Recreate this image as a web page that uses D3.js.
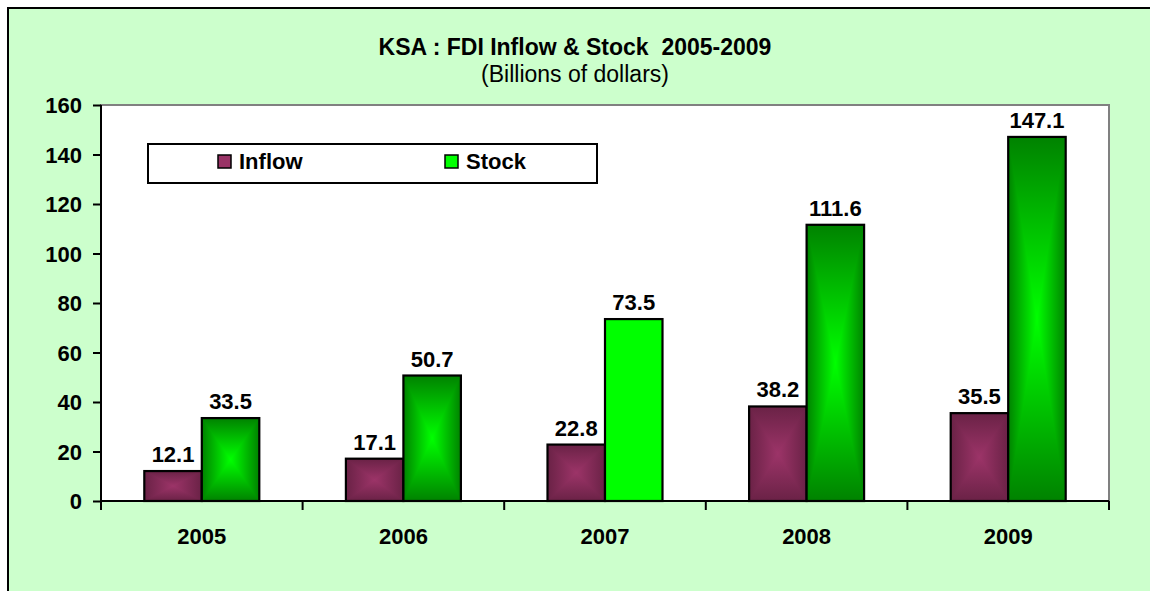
<!DOCTYPE html>
<html>
<head>
<meta charset="utf-8">
<script src="https://cdn.jsdelivr.net/npm/d3@7"></script>
<style>
  body { margin: 0; background: #ffffff; }
  text { font-family: "Liberation Sans", Arial, sans-serif; }
</style>
</head>
<body>
<div id="chart"></div>
<script>
// data
const years = ["2005", "2006", "2007", "2008", "2009"];
const seriesNames = ["Inflow", "Stock"];
const inflow = [12.1, 17.1, 22.8, 38.2, 35.5];
const stock = [33.5, 50.7, 73.5, 111.6, 147.1];
const yTicks = [0, 20, 40, 60, 80, 100, 120, 140, 160];

const W = 1150, H = 591;
const plot = {left: 101, right: 1109, top: 105, bottom: 501};

const svg = d3.select("#chart")
  .append("svg")
    .attr("width", W)
    .attr("height", H);

// outer chart area (border runs off the right and bottom)
svg.append("rect")
  .attr("x", 8).attr("y", 8)
  .attr("width", W + 20).attr("height", H + 20)
  .attr("fill", "#ccffcc")
  .attr("stroke", "#000").attr("stroke-width", 2);

// plot area
svg.append("rect")
  .attr("x", plot.left).attr("y", plot.top)
  .attr("width", plot.right - plot.left).attr("height", plot.bottom - plot.top)
  .attr("fill", "#fff")
  .attr("stroke", "#808080").attr("stroke-width", 2);

// gradients: dark at the edges, bright at the centre
const defs = svg.append("defs");
const shades = {
  Inflow: {edge: "#6a2246", mid: "#9c3468"},
  Stock: {edge: "#008200", mid: "#00ff00"}
};
const dirs = {
  h: {x1: 0, y1: 0, x2: 1, y2: 0, mirror: true},
  top: {x1: 0, y1: 0, x2: 0, y2: 1},
  bot: {x1: 0, y1: 1, x2: 0, y2: 0}
};
seriesNames.forEach(s => {
  Object.keys(dirs).forEach(k => {
    const d = dirs[k];
    const g = defs.append("linearGradient")
      .attr("id", "g-" + s + "-" + k)
      .attr("x1", d.x1).attr("y1", d.y1).attr("x2", d.x2).attr("y2", d.y2);
    if (d.mirror) {
      g.append("stop").attr("offset", 0).attr("stop-color", shades[s].edge);
      g.append("stop").attr("offset", 0.5).attr("stop-color", shades[s].mid);
      g.append("stop").attr("offset", 1).attr("stop-color", shades[s].edge);
    } else {
      g.append("stop").attr("offset", 0).attr("stop-color", shades[s].edge);
      g.append("stop").attr("offset", 1).attr("stop-color", shades[s].mid);
    }
  });
});

// scales
const x = d3.scaleBand()
  .domain(years)
  .range([plot.left, plot.right])
  .padding(0);

const barW = 57.5;
const x1 = d3.scaleBand()
  .domain(seriesNames)
  .range([x.bandwidth() / 2 - barW, x.bandwidth() / 2 + barW])
  .padding(0);

const y = d3.scaleLinear()
  .domain([0, 160])
  .range([plot.bottom, plot.top]);

// rows for the bars
const rows = [];
years.forEach((yr, i) => {
  rows.push({year: yr, series: "Inflow", value: inflow[i]});
  rows.push({year: yr, series: "Stock", value: stock[i]});
});

const bars = svg.append("g").selectAll("g.bar")
  .data(rows)
  .enter()
  .append("g")
    .attr("class", "bar");

bars.each(function(d) {
  const g = d3.select(this);
  const bx0 = x(d.year) + x1(d.series), bx1 = bx0 + x1.bandwidth();
  const by0 = y(d.value), by1 = y(0);
  const cx = (bx0 + bx1) / 2, cy = (by0 + by1) / 2;
  if (d.series === "Stock" && d.year === "2007") {
    // this one is a plain fill
    g.append("rect")
      .attr("x", bx0).attr("y", by0)
      .attr("width", bx1 - bx0).attr("height", by1 - by0)
      .attr("fill", "#00ff00");
  } else {
    g.append("rect")
      .attr("x", bx0).attr("y", by0)
      .attr("width", bx1 - bx0).attr("height", by1 - by0)
      .attr("fill", "url(#g-" + d.series + "-h)");
    g.append("path")
      .attr("d", `M${bx0},${by0}L${bx1},${by0}L${cx},${cy}Z`)
      .attr("fill", "url(#g-" + d.series + "-top)");
    g.append("path")
      .attr("d", `M${bx0},${by1}L${bx1},${by1}L${cx},${cy}Z`)
      .attr("fill", "url(#g-" + d.series + "-bot)");
  }
  g.append("rect")
    .attr("x", bx0).attr("y", by0)
    .attr("width", bx1 - bx0).attr("height", by1 - by0)
    .attr("fill", "none")
    .attr("stroke", "#000").attr("stroke-width", 2.2);
});

// value labels
svg.append("g").selectAll("text")
  .data(rows)
  .enter()
  .append("text")
    .attr("x", d => x(d.year) + x1(d.series) + x1.bandwidth() / 2)
    .attr("y", d => y(d.value) - 9)
    .attr("text-anchor", "middle")
    .style("font-size", "22px")
    .style("font-weight", "bold")
    .text(d => d.value.toFixed(1));

// Y axis
const yAxis = svg.append("g")
  .attr("transform", "translate(" + plot.left + ",0)")
  .call(d3.axisLeft(y).tickValues(yTicks).tickSize(8).tickPadding(11).tickSizeOuter(0));
yAxis.select(".domain").attr("stroke-width", 2).attr("d", `M0,${plot.top}V${plot.bottom + 8}`);
yAxis.selectAll(".tick line").attr("stroke-width", 2);
yAxis.selectAll("text")
  .style("font-size", "22px")
  .style("font-weight", "bold")
  .style("font-family", "'Liberation Sans', Arial, sans-serif")
  .attr("dy", "0.36em");

// X axis: labels in the middle, tick marks between groups
const xAxis = svg.append("g")
  .attr("transform", "translate(0," + plot.bottom + ")")
  .call(d3.axisBottom(x).tickSize(0).tickPadding(27).tickSizeOuter(0));
xAxis.select(".domain").attr("stroke-width", 2).attr("d", `M${plot.left},0H${plot.right}`);
xAxis.selectAll("text")
  .style("font-size", "22px")
  .style("font-weight", "bold")
  .style("font-family", "'Liberation Sans', Arial, sans-serif");
xAxis.selectAll("line.sep")
  .data(years.map(d => x(d)).concat([x(years[years.length - 1]) + x.bandwidth()]))
  .enter()
  .append("line")
    .attr("class", "sep")
    .attr("x1", d => d).attr("x2", d => d)
    .attr("y1", 0).attr("y2", 9)
    .attr("stroke", "#000").attr("stroke-width", 2);

// title
svg.append("text")
  .attr("x", 575).attr("y", 55)
  .attr("text-anchor", "middle")
  .style("font-size", "23px")
  .style("font-weight", "bold")
  .text("KSA : FDI Inflow & Stock\u00a0\u00a02005-2009");
svg.append("text")
  .attr("x", 575).attr("y", 82)
  .attr("text-anchor", "middle")
  .style("font-size", "23px")
  .text("(Billions of dollars)");

// legend
const legend = svg.append("g");
legend.append("rect")
  .attr("x", 148).attr("y", 144)
  .attr("width", 449).attr("height", 39)
  .attr("fill", "#fff")
  .attr("stroke", "#000").attr("stroke-width", 2);
const legX = [218, 445];
const legItem = legend.selectAll("g.item")
  .data(seriesNames)
  .enter()
  .append("g")
    .attr("class", "item")
    .attr("transform", (d, i) => "translate(" + legX[i] + ",155)");
legItem.append("rect")
  .attr("width", 13).attr("height", 13)
  .attr("fill", d => d === "Inflow" ? "#993366" : "#00ff00")
  .attr("stroke", "#000").attr("stroke-width", 1.5);
legItem.append("text")
  .attr("x", 21).attr("y", 14)
  .style("font-size", "22px")
  .style("font-weight", "bold")
  .text(d => d);
</script>
</body>
</html>
